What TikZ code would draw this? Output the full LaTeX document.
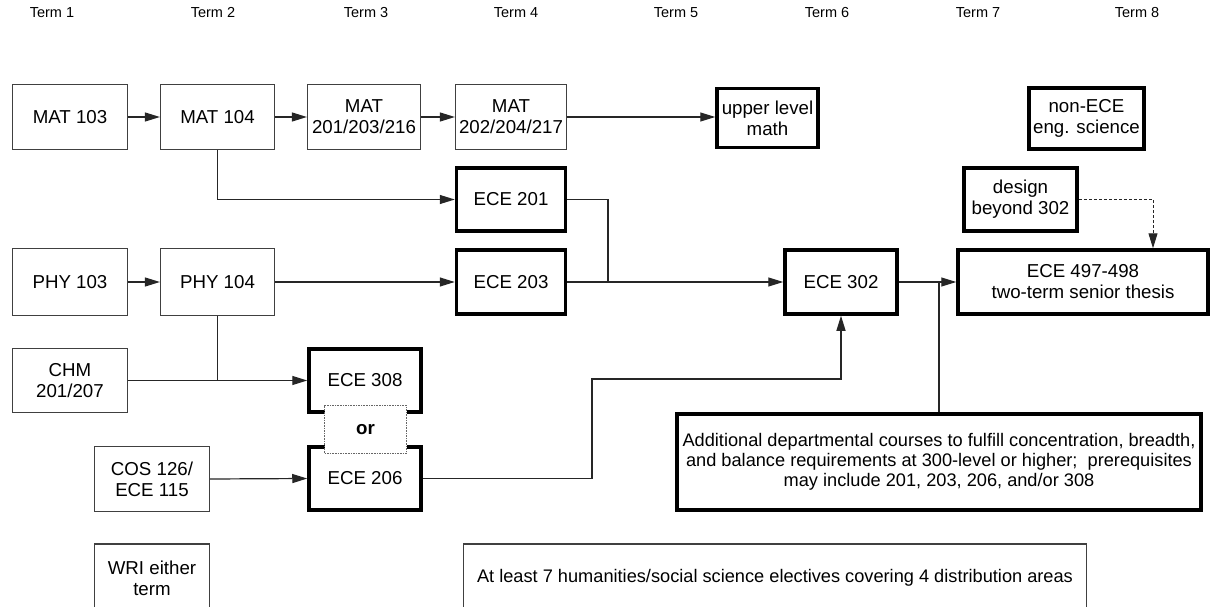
\documentclass[tikz,border=0pt]{standalone}
\usepackage{fontspec}
\setmainfont{Liberation Sans}
\usetikzlibrary{arrows.meta}
\begin{document}
\begin{tikzpicture}[x=1pt,y=-1pt,
  every node/.style={font=\fontsize{18.7}{21}\selectfont, align=center, inner sep=0pt},
  thinbox/.style={draw=black!75, line width=1.2pt, fill=white},
  thickbox/.style={draw=black, line width=3.5pt, fill=white},
  orbox/.style={draw=black!60, densely dotted, line width=1.6pt, fill=white, font=\fontsize{18.7}{21}\selectfont\bfseries},
  termlbl/.style={font=\fontsize{14.5}{16}\selectfont},
  longtext/.style={font=\fontsize{18.2}{20}\selectfont},
  link/.style={draw=black!85, line width=1.2pt, -{Triangle[length=15pt,width=9pt]}},
  plainlink/.style={draw=black!85, line width=1.2pt},
  optlink/.style={draw=black!85, line width=1pt, dash pattern=on 3pt off 2pt, -{Triangle[length=15pt,width=9pt]}},
]
\fill[white] (0,0) rectangle (1219,607);
\clip (0,0) rectangle (1219,607);

% term headings
\node[termlbl] (t1) at (52,13) {Term 1};
\node[termlbl] (t2) at (213,13) {Term 2};
\node[termlbl] (t3) at (366,13) {Term 3};
\node[termlbl] (t4) at (516,13) {Term 4};
\node[termlbl] (t5) at (676,13) {Term 5};
\node[termlbl] (t6) at (827,13) {Term 6};
\node[termlbl] (t7) at (978,13) {Term 7};
\node[termlbl] (t8) at (1137,13) {Term 8};

% mathematics row
\node[thinbox, minimum width=115, minimum height=65] (mat103) at (70,117) {MAT 103};
\node[thinbox, minimum width=114, minimum height=65] (mat104) at (217.5,117) {MAT 104};
\node[thinbox, minimum width=113, minimum height=65] (mat201) at (364,117) {MAT\\201/203/216};
\node[thinbox, minimum width=111, minimum height=65] (mat202) at (511,117) {MAT\\202/204/217};
\node[thickbox, minimum width=101, minimum height=59] (upper) at (767.5,118) {upper level\\math};
\node[thickbox, minimum width=115, minimum height=61] (nonece) at (1086.5,118.5) {non-ECE\\eng. science};

% core ECE courses
\node[thickbox, minimum width=109, minimum height=63] (ece201) at (511,199.5) {ECE 201};
\node[thickbox, minimum width=109, minimum height=64] (ece203) at (511,282) {ECE 203};
\node[thickbox, minimum width=112, minimum height=64] (ece302) at (841,282) {ECE 302};
\node[thickbox, minimum width=113, minimum height=63] (design) at (1020.5,199.5) {design\\beyond 302};
\node[thickbox, minimum width=250, minimum height=64] (ece497) at (1083,282) {ECE 497-498\\two-term senior thesis};

% physics, chemistry, computing
\node[thinbox, minimum width=115, minimum height=67] (phy103) at (70,282) {PHY 103};
\node[thinbox, minimum width=114, minimum height=67] (phy104) at (217.5,282) {PHY 104};
\node[thinbox, minimum width=115, minimum height=64] (chm) at (70,380.5) {CHM\\201/207};
\node[thinbox, minimum width=115, minimum height=65] (cos) at (152,479) {COS 126/\\ECE 115};
\node[thickbox, minimum width=112, minimum height=63] (ece308) at (365,380.5) {ECE 308};
\node[thickbox, minimum width=112, minimum height=63] (ece206) at (365,478.5) {ECE 206};
\node[orbox, minimum width=82, minimum height=48] (either) at (365.5,429.5) {or};

% electives
\node[thickbox, longtext, minimum width=524, minimum height=96] (extra) at (939,462)
  {Additional departmental courses to fulfill concentration, breadth,\\
   and balance requirements at 300-level or higher;\ \ prerequisites\\
   may include 201, 203, 206, and/or 308};
\node[thinbox, minimum width=115, minimum height=68] (wri) at (152,578) {WRI either\\term};
\node[thinbox, longtext, minimum width=623, minimum height=68] (hum) at (775,578)
  {At least 7 humanities/social science electives covering 4 distribution areas};

% junction points
\coordinate (merge) at (608,282);
\coordinate (bend) at (592,379);
\coordinate (dd) at (1153,199.5);

% prerequisite connectors
\draw[link] (mat103.east) -- (mat104.west);
\draw[link] (mat104.east) -- (mat201.west);
\draw[link] (mat201.east) -- (mat202.west);
\draw[link] (mat202.east) -- (mat202.east -| upper.west);
\draw[link] (mat104.south) |- (ece201.west);
\draw[link] (phy103.east) -- (phy104.west);
\draw[link] (phy104.east) -- (ece203.west);
\draw[plainlink] (phy104.south) -- (phy104.south |- chm.east);
\draw[link] (chm.east) -- (ece308.west);
\draw[link] (cos.east) -- (ece206.west);
\draw[plainlink] (ece201.east) -| (merge);
\draw[link] (ece203.east) -- (ece302.west);
\draw[link] (ece206.east) -| (bend) -| (ece302.south);
\draw[link] (ece302.east) -- (ece497.west);
\draw[plainlink] (extra.north) -- (extra.north |- ece302.east);
\draw[optlink] (design.east) -- (dd) -- (dd |- ece497.north);
\end{tikzpicture}
\end{document}
